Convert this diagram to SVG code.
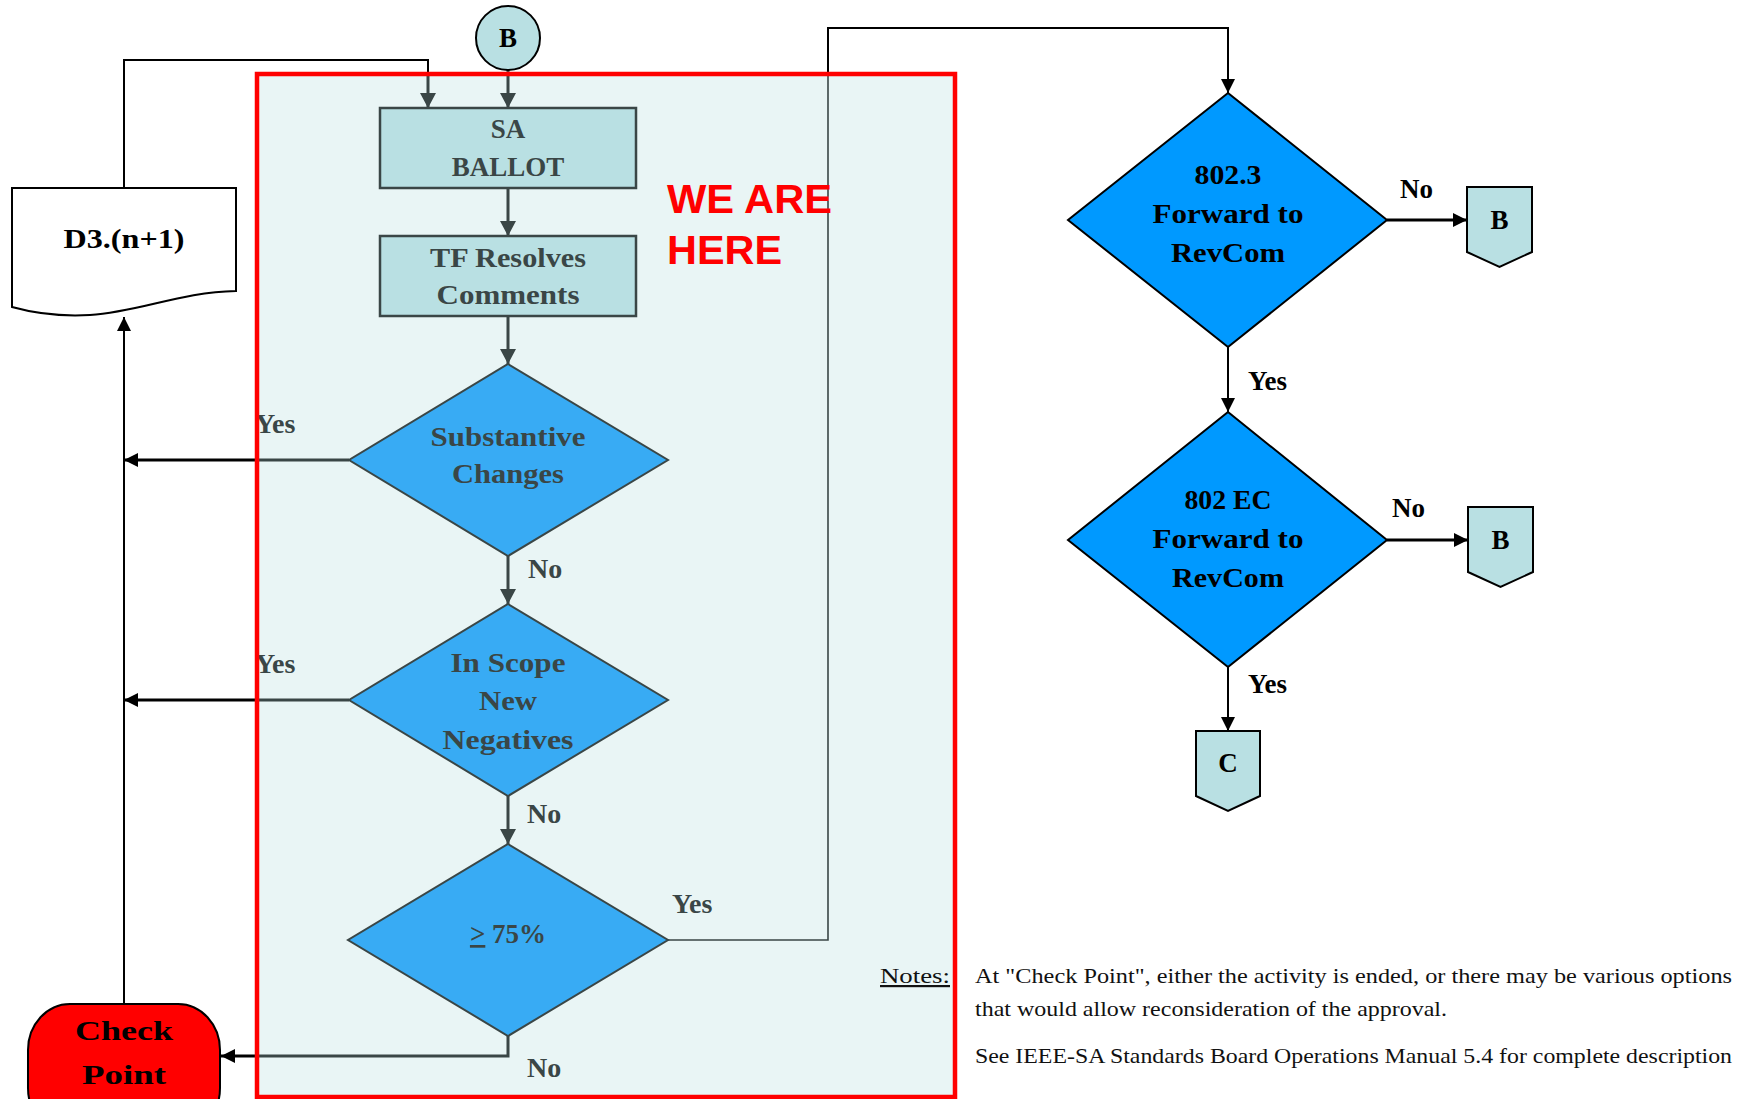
<svg xmlns="http://www.w3.org/2000/svg" width="1742" height="1099" viewBox="0 0 1742 1099">
<defs>
<style>
.box{fill:#B9E0E3;stroke:#3A4646;stroke-width:2.5}
.conn{fill:#B9E0E3;stroke:#000;stroke-width:2}
.din{fill:#38ABF4;stroke:#3A4646;stroke-width:2}
.dout{fill:#0099FF;stroke:#000;stroke-width:2}
.tin{font-family:"Liberation Serif",serif;font-weight:bold;font-size:27px;fill:#3A4646;text-anchor:middle}
.tout{font-family:"Liberation Serif",serif;font-weight:bold;font-size:27px;fill:#000;text-anchor:middle}
.lin{font-family:"Liberation Serif",serif;font-weight:bold;font-size:28px;fill:#3A4646}
.lout{font-family:"Liberation Serif",serif;font-weight:bold;font-size:27px;fill:#000}
.note{font-family:"Liberation Serif",serif;font-size:22px;fill:#111}
.g{fill:none;stroke:#3A4646;stroke-width:3}
.gt{fill:none;stroke:#3A4646;stroke-width:1.6}
.k{fill:none;stroke:#000;stroke-width:2}
.k3{fill:none;stroke:#000;stroke-width:3}
</style>
<marker id="ag" markerUnits="userSpaceOnUse" markerWidth="16" markerHeight="16" refX="15" refY="8" orient="auto"><path d="M0,0 L15,8 L0,16 Z" fill="#3A4646"/></marker>
<marker id="ak" markerUnits="userSpaceOnUse" markerWidth="14" markerHeight="14" refX="14" refY="7" orient="auto"><path d="M0,0 L14,7 L0,14 Z" fill="#000"/></marker>
</defs>
<rect width="1742" height="1099" fill="#fff"/>
<g id="focus-region"><rect x="257" y="74" width="698" height="1023" fill="#E9F5F5"/></g>

<g id="connectors">
<line class="g" x1="508" y1="70" x2="508" y2="108" marker-end="url(#ag)"/>
<polyline class="k" points="124,188 124,60 428,60 428,76"/>
<line class="g" x1="428" y1="74" x2="428" y2="108" marker-end="url(#ag)"/>
<line class="g" x1="508" y1="188" x2="508" y2="236" marker-end="url(#ag)"/>
<line class="g" x1="508" y1="316" x2="508" y2="364" marker-end="url(#ag)"/>
<line class="g" x1="508" y1="556" x2="508" y2="604" marker-end="url(#ag)"/>
<line class="g" x1="508" y1="796" x2="508" y2="844" marker-end="url(#ag)"/>
<line class="g" x1="349" y1="460" x2="256" y2="460"/>
<line class="k3" x1="258" y1="460" x2="124" y2="460" marker-end="url(#ak)"/>
<line class="g" x1="349" y1="700" x2="256" y2="700"/>
<line class="k3" x1="258" y1="700" x2="124" y2="700" marker-end="url(#ak)"/>
<polyline class="g" points="508,1036 508,1056 256,1056"/>
<line class="k3" x1="258" y1="1056" x2="221" y2="1056" marker-end="url(#ak)"/>
<line class="k" x1="124" y1="1004" x2="124" y2="317" marker-end="url(#ak)"/>
<polyline class="gt" points="668,940 828,940 828,74"/>
<polyline class="k" points="828,76 828,28 1228,28 1228,93" marker-end="url(#ak)"/>
<line class="k3" x1="1387" y1="220" x2="1467" y2="220" marker-end="url(#ak)"/>
<line class="k" x1="1228" y1="347" x2="1228" y2="412" marker-end="url(#ak)"/>
<line class="k3" x1="1387" y1="540" x2="1468" y2="540" marker-end="url(#ak)"/>
<line class="k" x1="1228" y1="667" x2="1228" y2="731" marker-end="url(#ak)"/>
</g>

<g id="node-b-top"><circle class="conn" cx="508" cy="38" r="32"/><text class="tout" x="508" y="47">B</text></g>
<g id="node-sa-ballot"><rect class="box" x="380" y="108" width="256" height="80"/>
<text class="tin" x="508" y="138">SA</text><text class="tin" x="508" y="176">BALLOT</text></g>
<g id="node-tf-resolves"><rect class="box" x="380" y="236" width="256" height="80"/>
<text class="tin" x="508" y="267" textLength="156" lengthAdjust="spacingAndGlyphs">TF Resolves</text><text class="tin" x="508" y="304" textLength="143" lengthAdjust="spacingAndGlyphs">Comments</text></g>
<g id="node-substantive"><polygon class="din" points="508,364 668,460 508,556 349,460"/>
<text class="tin" x="508" y="446" textLength="155" lengthAdjust="spacingAndGlyphs">Substantive</text><text class="tin" x="508" y="483" textLength="112" lengthAdjust="spacingAndGlyphs">Changes</text></g>
<g id="node-in-scope"><polygon class="din" points="508,604 668,700 508,796 349,700"/>
<text class="tin" x="508" y="672" textLength="115" lengthAdjust="spacingAndGlyphs">In Scope</text><text class="tin" x="508" y="710" textLength="58" lengthAdjust="spacingAndGlyphs">New</text><text class="tin" x="508" y="749" textLength="131" lengthAdjust="spacingAndGlyphs">Negatives</text></g>
<g id="node-75"><polygon class="din" points="508,844 668,940 508,1036 348,940"/>
<text class="tin" x="508" y="943"><tspan text-decoration="underline">&gt;</tspan> 75%</text></g>
<g id="node-d3"><path d="M12,188 H236 V291 C180,292 140,312 90,315 C55,317 30,312 12,307 Z" fill="#fff" stroke="#000" stroke-width="2"/>
<text class="tout" x="124" y="248" font-size="28" textLength="121" lengthAdjust="spacingAndGlyphs">D3.(n+1)</text></g>
<g id="node-check-point"><rect x="28" y="1004" width="192" height="130" rx="42" ry="46" fill="#FF0000" stroke="#000" stroke-width="2"/>
<text class="tout" x="124" y="1040" font-size="35" textLength="98" lengthAdjust="spacingAndGlyphs">Check</text><text class="tout" x="124" y="1084" font-size="35" textLength="84" lengthAdjust="spacingAndGlyphs">Point</text></g>
<g id="node-8023"><polygon class="dout" points="1228,93 1387,220 1228,347 1068,220"/>
<text class="tout" x="1228" y="184" textLength="67" lengthAdjust="spacingAndGlyphs">802.3</text><text class="tout" x="1228" y="223" textLength="151" lengthAdjust="spacingAndGlyphs">Forward to</text><text class="tout" x="1228" y="262" textLength="114" lengthAdjust="spacingAndGlyphs">RevCom</text></g>
<g id="node-802ec"><polygon class="dout" points="1228,412 1387,540 1228,667 1068,540"/>
<text class="tout" x="1228" y="509" textLength="87" lengthAdjust="spacingAndGlyphs">802 EC</text><text class="tout" x="1228" y="548" textLength="151" lengthAdjust="spacingAndGlyphs">Forward to</text><text class="tout" x="1228" y="587" textLength="112" lengthAdjust="spacingAndGlyphs">RevCom</text></g>
<g id="node-b1"><path class="conn" d="M1467,187 H1532 V252 L1499.5,267 L1467,252 Z"/><text class="tout" x="1499.5" y="229" font-size="26">B</text></g>
<g id="node-b2"><path class="conn" d="M1468,507 H1533 V572 L1500.5,587 L1468,572 Z"/><text class="tout" x="1500.5" y="549" font-size="26">B</text></g>
<g id="node-c"><path class="conn" d="M1196,731 H1260 V796 L1228,811 L1196,796 Z"/><text class="tout" x="1228" y="772" font-size="26">C</text></g>

<g id="labels">
<text class="lin" x="255" y="433">Yes</text>
<text class="lin" x="255" y="673">Yes</text>
<text class="lin" x="528" y="578">No</text>
<text class="lin" x="527" y="823">No</text>
<text class="lin" x="527" y="1077">No</text>
<text class="lin" x="672" y="913">Yes</text>
<text class="lout" x="1400" y="198">No</text>
<text class="lout" x="1392" y="517">No</text>
<text class="lout" x="1248" y="390">Yes</text>
<text class="lout" x="1248" y="693">Yes</text>
<text x="667" y="213" font-family="Liberation Sans, sans-serif" font-weight="bold" font-size="40" fill="#FF0000" textLength="165" lengthAdjust="spacingAndGlyphs">WE ARE</text>
<text x="667" y="264" font-family="Liberation Sans, sans-serif" font-weight="bold" font-size="40" fill="#FF0000" textLength="115" lengthAdjust="spacingAndGlyphs">HERE</text>
</g>

<g id="notes">
<text class="note" x="880" y="983" fill="#3A4646" text-decoration="underline" textLength="70" lengthAdjust="spacingAndGlyphs">Notes:</text>
<text class="note" x="975" y="983" textLength="757" lengthAdjust="spacingAndGlyphs">At "Check Point", either the activity is ended, or there may be various options</text>
<text class="note" x="975" y="1016" textLength="472" lengthAdjust="spacingAndGlyphs">that would allow reconsideration of the approval.</text>
<text class="note" x="975" y="1063" textLength="757" lengthAdjust="spacingAndGlyphs">See IEEE-SA Standards Board Operations Manual 5.4 for complete description</text>
</g>

<g id="focus-border"><rect x="257" y="74" width="698" height="1023" fill="none" stroke="#FF0000" stroke-width="4.5"/></g>
</svg>
